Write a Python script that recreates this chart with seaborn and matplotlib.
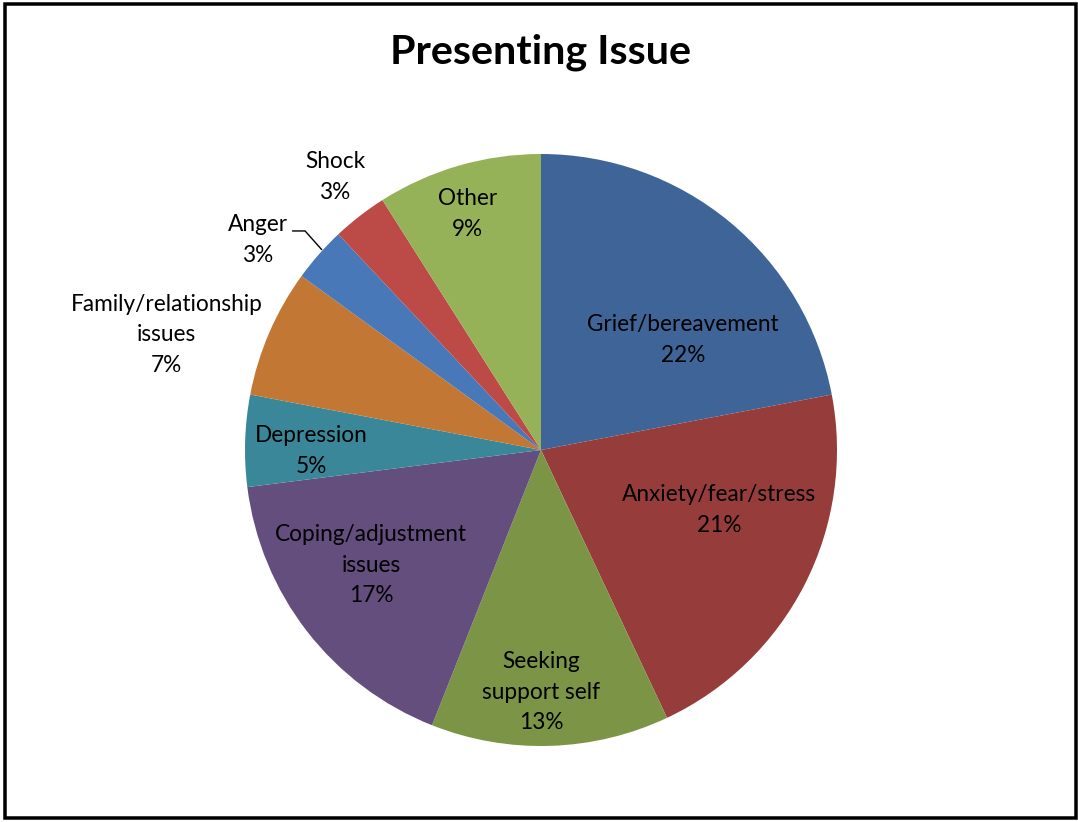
import matplotlib
matplotlib.use("Agg")
import matplotlib.pyplot as plt
import matplotlib.patches as mpatches
import seaborn as sns

# Presenting issue shares (percent of cases)
categories = [
    "Grief/bereavement",
    "Anxiety/fear/stress",
    "Seeking\nsupport self",
    "Coping/adjustment\nissues",
    "Depression",
    "Family/relationship\nissues",
    "Anger",
    "Shock",
    "Other",
]
shares = [22, 21, 13, 17, 5, 7, 3, 3, 9]
colors = [
    "#3F6598", "#963C3A", "#7B9445", "#634E7E", "#3A8799",
    "#C27735", "#4878B8", "#BC4A47", "#96B258",
]
# label anchor points, in pie-radius units from the centre
label_xy = [
    (0.480, 0.372), (0.601, -0.203), (0.000, -0.818),
    (-0.574, -0.389), (-0.777, -0.003), (-1.264, 0.389),
    (-0.956, 0.709), (-0.696, 0.922), (-0.247, 0.797),
]

sns.set_theme(style="white")
plt.rcParams["font.family"] = ["Lato", "DejaVu Sans"]

W, H, DPI = 1078, 822, 100
fig = plt.figure(figsize=(W / DPI, H / DPI), dpi=DPI)
ax = fig.add_axes([0, 0, 1, 1])

R = 296.0          # pie radius in pixels
cx, cy = 541.0, 450.0  # pie centre in pixels (from top-left)

ax.pie(shares, colors=sns.color_palette(colors), startangle=90,
       counterclock=False, radius=1.0,
       wedgeprops=dict(linewidth=0, antialiased=True))
ax.set_xlim(-cx / R, (W - cx) / R)
ax.set_ylim(-(H - cy) / R, cy / R)
ax.set_aspect("auto")
ax.axis("off")

for name, val, (x, y) in zip(categories, shares, label_xy):
    ax.text(x, y, f"{name}\n{val}%", ha="center", va="center",
            fontsize=16.3, color="black", linespacing=1.55)

# leader line for the small Anger slice
ax.plot([-0.841, -0.797, -0.740], [0.740, 0.740, 0.676],
        color="black", lw=1.0, solid_capstyle="butt")

fig.text(540 / W, 1 - 52 / H, "Presenting Issue", ha="center", va="center",
         fontsize=29.7, fontweight="bold", color="black")

# outer chart border
lw_px = 3.5
fig.add_artist(mpatches.Rectangle(
    (4.5 / W, 1 - 818 / H), (1075.5 - 4.5) / W, (818 - 4.5) / H,
    transform=fig.transFigure, fill=False, edgecolor="black",
    linewidth=lw_px * 72 / DPI))

fig.savefig("out.png", dpi=DPI)
